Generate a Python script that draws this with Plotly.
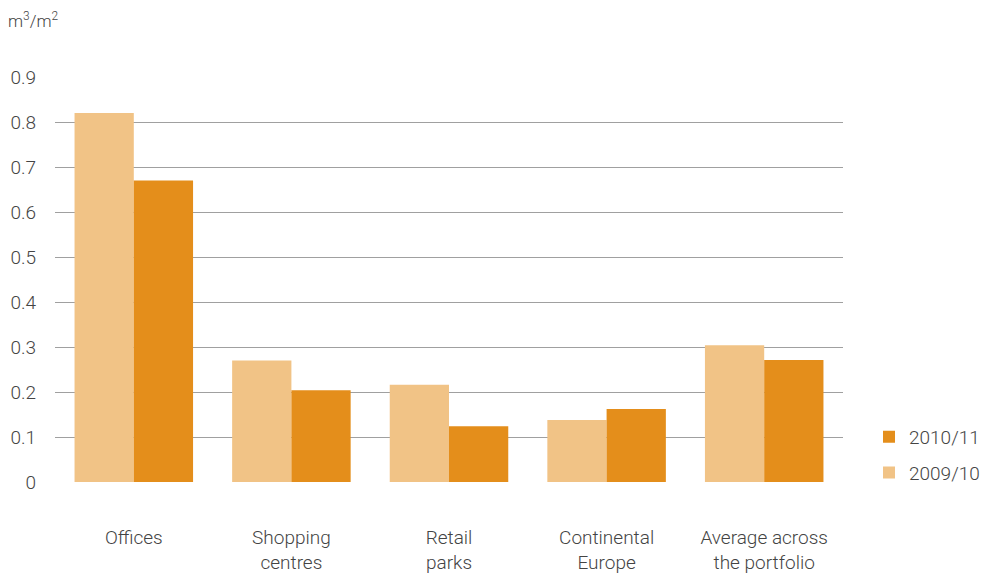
import plotly.graph_objects as go

# Water intensity by portfolio segment (m3 per m2)
categories = ["Offices", "Shopping<br>centres", "Retail<br>parks",
              "Continental<br>Europe", "Average across<br>the portfolio"]
values_2009_10 = [0.82, 0.27, 0.216, 0.138, 0.304]
values_2010_11 = [0.67, 0.204, 0.124, 0.162, 0.271]
y_ticks = [0, 0.1, 0.2, 0.3, 0.4, 0.5, 0.6, 0.7, 0.8, 0.9]
y_tick_labels = ["0", "0.1", "0.2", "0.3", "0.4", "0.5", "0.6", "0.7", "0.8", "0.9"]

LIGHT = "#F1C386"
DARK = "#E48E1B"
TEXT = "#444444"
FONT = "Roboto"

fig = go.Figure()
fig.add_trace(go.Bar(x=categories, y=values_2009_10, name="2009/10",
                     marker=dict(color=LIGHT, line=dict(width=0)),
                     legendgroup="a", legendrank=2))
fig.add_trace(go.Bar(x=categories, y=values_2010_11, name="2010/11",
                     marker=dict(color=DARK, line=dict(width=0)),
                     legendgroup="b", legendrank=1))

fig.update_layout(
    width=982, height=577,
    margin=dict(l=55, r=139, t=77, b=95, autoexpand=False),
    paper_bgcolor="white", plot_bgcolor="white",
    barmode="group", bargap=0.248, bargroupgap=0,
    font=dict(family=FONT, size=19, color=TEXT, weight=300),
    legend=dict(traceorder="grouped", x=1.033, xanchor="left",
                y=0.067, yanchor="middle", tracegroupgap=8,
                font=dict(family=FONT, size=19, color=TEXT, weight=300),
                itemwidth=30, bgcolor="rgba(0,0,0,0)"),
    xaxis=dict(type="category", range=[-0.5, 4.5], showgrid=False,
               showline=False, ticks="", ticklabelstandoff=42,
               automargin=False,
               tickfont=dict(family=FONT, size=19, color=TEXT, weight=300)),
    yaxis=dict(range=[0, 0.9], tickvals=y_ticks, ticktext=y_tick_labels,
               showgrid=True, gridcolor="#a0a0a0", gridwidth=1.3,
               zeroline=False, showline=False, ticks="",
               ticklabelstandoff=18, automargin=False,
               tickfont=dict(family=FONT, size=19, color=TEXT, weight=300)),
    annotations=[dict(text="m<sup>3</sup>/m<sup>2</sup>", xref="paper",
                      yref="paper", x=-55/788, y=1 + 44/405,
                      xanchor="left", yanchor="bottom", showarrow=False,
                      xshift=6,
                      font=dict(family=FONT, size=17, color=TEXT, weight=300))],
)

fig.write_html("out.html")
